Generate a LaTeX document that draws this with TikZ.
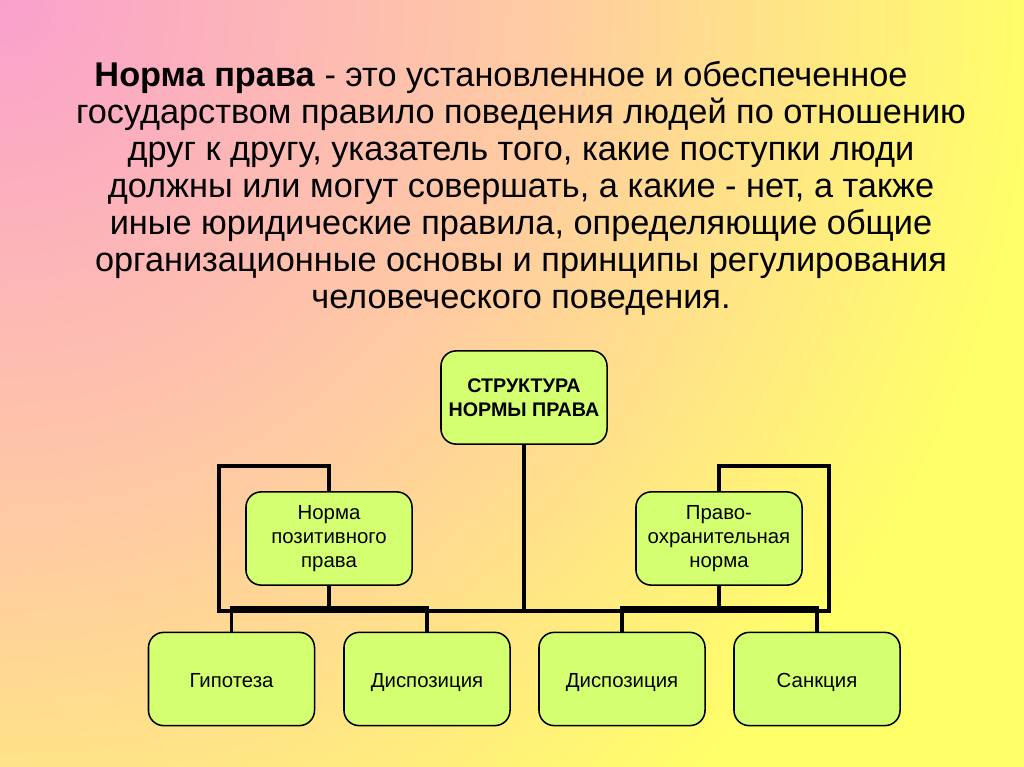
\documentclass[tikz,border=0pt]{standalone}
\usepackage{fontspec}
\setmainfont{Liberation Sans}
\usetikzlibrary{positioning, calc}
\definecolor{bgpink}{RGB}{250,160,205}
\definecolor{bgpeach}{RGB}{255,205,160}
\definecolor{bgyellow}{RGB}{255,255,105}
\definecolor{boxlime}{RGB}{212,255,112}
\pgfdeclareradialshading{bgglow}{\pgfpoint{0bp}{0bp}}{%
  color(0bp)=(bgpink); color(10bp)=(bgpeach);
  color(18.5bp)=(bgyellow); color(50bp)=(bgyellow)}

\begin{document}
\begin{tikzpicture}[
    x=0.025cm, y=-0.025cm,
    normbox/.style={
        rectangle, draw=black, fill=boxlime, line width=1.1pt,
        rounded corners=0.38cm, minimum width=4.15cm,
        minimum height=2.33cm, font=\fontsize{14.5}{17}\selectfont,
        align=center, inner sep=2pt
    },
    headbox/.style={
        normbox, font=\fontsize{14}{17}\selectfont\bfseries
    },
    leafbox/.style={
        normbox, text height=13pt, text depth=0.5pt
    },
    conn/.style={line width=2.4pt, black}
]
\useasboundingbox (0,0) rectangle (1024,767);
% background
\begin{scope}
  \clip (0,0) rectangle (1024,767);
  \shade[shading=bgglow] (0,0) circle (1400);
\end{scope}

% definition
\node[font=\fontsize{24.4}{26.3}\selectfont, align=center, inner sep=0pt] (defn) at (521,188)
  {\textbf{Норма права} - это установленное и обеспеченное\hspace*{1cm}\\
   государством правило поведения людей по отношению\\
   друг к другу, указатель того, какие поступки люди\\
   должны или могут совершать, а какие - нет, а также\\
   иные юридические правила, определяющие общие\\
   организационные основы и принципы регулирования\\
   человеческого поведения.};

% tree
\node[headbox] (struct) at (524,397.5) {СТРУКТУРА\\НОРМЫ ПРАВА};
\node[normbox] (pos)  at (329,538.5) {Норма\\позитивного\\права};
\node[normbox] (prot) at (719,538.5) {Право-\\охранительная\\норма};
\node[leafbox] (hyp)   at (231.5,679) {Гипотеза};
\node[leafbox] (dispA) at (427,679)   {Диспозиция};
\node[leafbox] (dispB) at (622,679)   {Диспозиция};
\node[leafbox] (sanc)  at (817,679)   {Санкция};

\coordinate (lhook) at (219,466);
\coordinate (rhook) at (829,466);
\coordinate (lbar)  at (219,611);
\coordinate (rbar)  at (829,611);

\draw[conn] (pos.north) |- (lhook) -- (lbar) -- (rbar) -- (rhook) -| (prot.north);
\draw[conn] (struct.south) -- (struct.south |- lbar);

\draw[conn] (hyp.north) -- ++(0,-24) coordinate (forkA) -| (dispA.north);
\draw[conn] (dispB.north) -- ++(0,-24) coordinate (forkB) -| (sanc.north);
\foreach \a/\b in {pos/forkA, prot/forkB}
  \draw[conn] (\a.south) -- (\a.south |- \b);
\end{tikzpicture}
\end{document}
